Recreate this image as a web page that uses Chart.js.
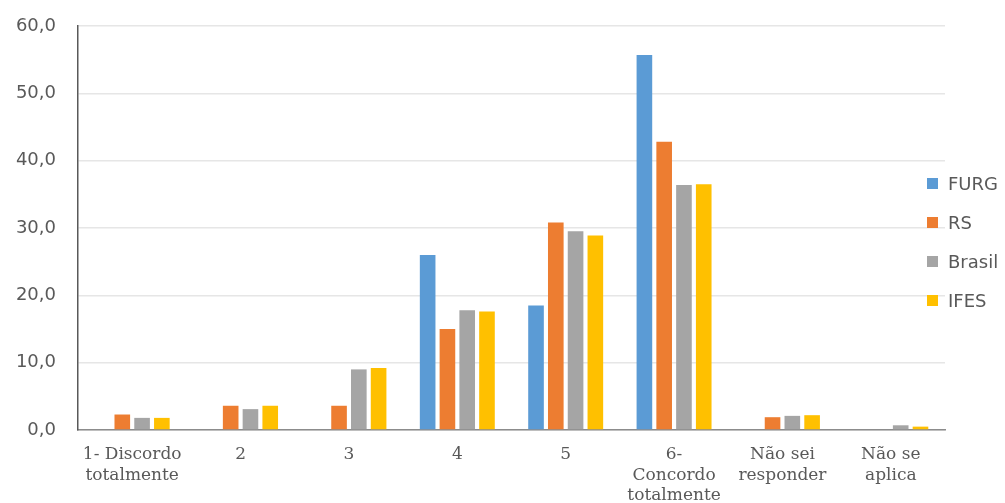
<!DOCTYPE html>
<html>
<head>
<meta charset="utf-8">
<script src="https://cdn.jsdelivr.net/npm/chart.js@4/dist/chart.umd.min.js"></script>
<style>
  html,body{margin:0;padding:0;background:#fff;}
  #wrap{position:relative;width:1005px;height:503px;}
  #legend{position:absolute;left:927px;top:164px;font-family:"DejaVu Sans",sans-serif;font-size:18px;color:#595959;}
  .item{display:flex;align-items:center;height:39px;margin:0;}
  .sw{width:11px;height:11px;margin-right:10px;}
</style>
</head>
<body>
<div id="wrap">
<canvas id="c" width="1005" height="503"></canvas>
<div id="legend"></div>
</div>
<script>
const categories = [["1- Discordo","totalmente"],"2","3","4","5",["6-","Concordo","totalmente"],["Não sei","responder"],["Não se","aplica"]];
const furg   = [0, 0, 0, 26.0, 18.5, 55.7, 0, 0];
const rs     = [2.3, 3.6, 3.6, 15.0, 30.8, 42.8, 1.9, 0];
const brasil = [1.8, 3.1, 9.0, 17.8, 29.5, 36.4, 2.1, 0.7];
const ifes   = [1.8, 3.6, 9.2, 17.6, 28.9, 36.5, 2.2, 0.5];
const seriesNames = ["FURG","RS","Brasil","IFES"];
const seriesColors = ["#5B9BD5","#ED7D31","#A5A5A5","#FFC000"];
const seriesData = [furg, rs, brasil, ifes];

const datasets = seriesNames.map((n,i)=>({
  label:n, data:seriesData[i], backgroundColor:seriesColors[i],
  categoryPercentage:0.73, barPercentage:0.79
}));

const leg = document.getElementById('legend');
seriesNames.forEach((n,i)=>{
  const d=document.createElement('div');d.className='item';
  d.innerHTML='<span class="sw" style="background:'+seriesColors[i]+'"></span><span>'+n+'</span>';
  leg.appendChild(d);
});

new Chart(document.getElementById('c'),{
  type:'bar',
  data:{labels:categories,datasets},
  options:{
    responsive:false,animation:false,
    layout:{padding:{top:26,right:60,left:0,bottom:0}},
    plugins:{legend:{display:false},tooltip:{enabled:false}},
    scales:{
      x:{
        grid:{display:false},
        border:{display:true,color:'#8C8C8C',width:1.5},
        ticks:{color:'#595959',font:{family:'"DejaVu Serif",serif',size:17,lineHeight:1.22},padding:6,maxRotation:0,autoSkip:false},
        afterFit:(s)=>{s.height=73;}
      },
      y:{
        min:0,max:60,
        ticks:{stepSize:10,color:'#595959',padding:22,font:{family:'"DejaVu Sans",sans-serif',size:18},
          callback:(v)=>v.toFixed(1).replace('.',',')},
        grid:{color:'#E6E6E6',lineWidth:1.5,drawTicks:false},
        border:{display:true,color:'#595959',width:1.5},
        afterFit:(s)=>{s.width=78;s.paddingTop=0;s.paddingBottom=0;}
      }
    }
  }
});
</script>
</body>
</html>
